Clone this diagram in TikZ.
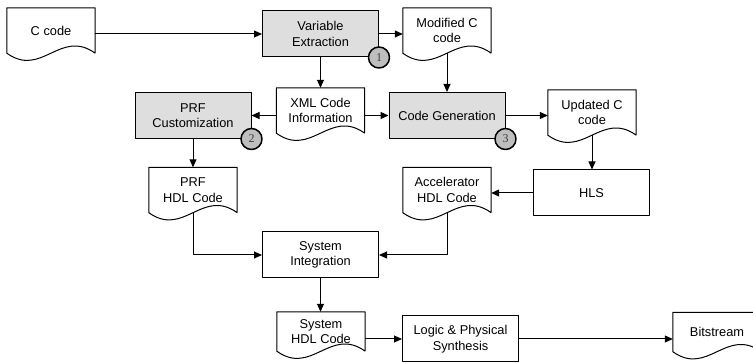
\documentclass[tikz,border=0pt]{standalone}
\usepackage{fontspec}
\setmainfont{Liberation Sans}
\newfontfamily\numfont{Liberation Serif}
\usetikzlibrary{arrows.meta}
\definecolor{boxgray}{RGB}{222,222,222}
\definecolor{dotgray}{RGB}{190,190,190}
% document symbol: flat top, wavy bottom
\newcommand\docshape[1]{%
  \draw[line width=1pt] (#1.south east) -- (#1.north east) -- (#1.north west) -- (#1.south west)
    .. controls ([shift={(35,25)}]#1.south west) and ([shift={(-35,-25)}]#1.south east) .. (#1.south east);}
\begin{document}
\begin{tikzpicture}[x=1pt, y=-1pt, font=\fontsize{12.8}{15.5}\selectfont, line join=round,
	>={Triangle[length=8pt,width=7pt]},
	proc/.style={draw, line width=1pt, minimum width=116, minimum height=46, align=center, inner sep=0pt},
	doc/.style={minimum width=88, minimum height=45, align=center, inner sep=0pt},
	badge/.style={circle, draw, line width=1.5pt, fill=dotgray, minimum size=21, inner sep=0pt,
		font=\numfont\fontsize{12}{12}\selectfont, text=black!75},
	flow/.style={->, line width=1pt}]
	\useasboundingbox (0,0) rectangle (753,363);
	\clip (0,0) rectangle (753,363);
	% nodes
	\node[doc] (ccode) at (51,30.5) {C code};
	\node[proc, fill=boxgray] (varext) at (320.5,34) {Variable\\Extraction};
	\node[doc] (modc) at (447,30.5) {Modified C\\code};
	\node[doc] (xml) at (320.5,110.5) {XML Code\\Information};
	\node[proc, fill=boxgray] (prfcust) at (193,115.5) {PRF\\Customization};
	\node[proc, fill=boxgray] (codegen) at (447,115.5) {Code Generation};
	\node[doc] (updc) at (592,112.5) {Updated C\\code};
	\node[proc] (hls) at (591.5,193) {HLS};
	\node[doc] (prfhdl) at (193,190) {PRF\\HDL Code};
	\node[doc] (acc) at (447,190) {Accelerator\\HDL Code};
	\node[proc] (sysint) at (320.5,255) {System\\Integration};
	\node[doc, minimum height=39] (syshdl) at (321,331.5) {System\\HDL Code};
	\node[proc] (logic) at (460.5,339) {Logic \& Physical\\Synthesis};
	\node[doc, minimum height=39] (bits) at (717,332) {Bitstream};
	\foreach \d in {ccode,modc,xml,updc,prfhdl,acc,syshdl,bits} {\docshape{\d}}
	% step numbers
	\node[badge] (n1) at (varext.south east) {1};
	\node[badge] (n2) at (prfcust.south east) {2};
	\node[badge] (n3) at (codegen.south east) {3};
	% connectors
	\draw[flow] (ccode.east |- varext) -- (varext.west);
	\draw[flow] (varext.east) -- (varext.east -| modc.west);
	\draw[flow] (varext.south) -- (xml.north);
	\draw[flow] (modc.south) -- (codegen.north);
	\draw[flow] (xml.west |- prfcust) -- (prfcust.east);
	\draw[flow] (xml.east |- codegen) -- (codegen.west);
	\draw[flow] (codegen.east) -- (codegen.east -| updc.west);
	\draw[flow] (updc.south) -- (updc.south |- hls.north);
	\draw[flow] (hls.west) -- (hls.west -| acc.east);
	\draw[flow] (prfcust.south) -- (prfhdl.north);
	\draw[flow] (prfhdl.south) |- (sysint.west);
	\draw[flow] (acc.south) |- (sysint.east);
	\draw[flow] (sysint.south) -- (sysint.south |- syshdl.north);
	\draw[flow] (syshdl.east |- logic) -- (logic.west);
	\draw[flow] (logic.east) -- (logic.east -| bits.west);
\end{tikzpicture}
\end{document}
